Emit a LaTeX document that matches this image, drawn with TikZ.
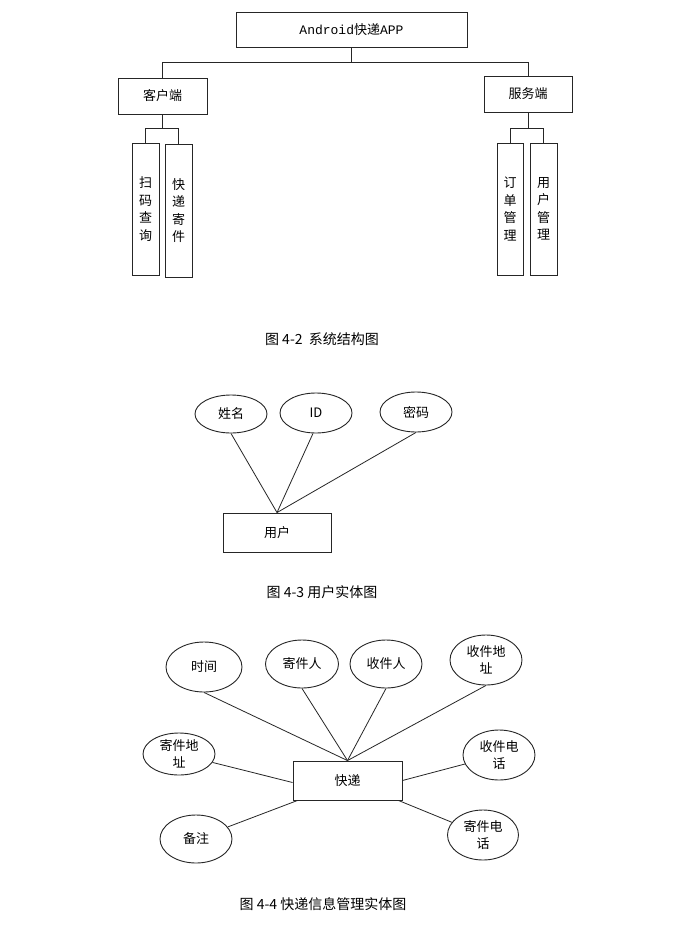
\documentclass[tikz,border=0pt]{standalone}
\usepackage{fontspec}
\setmainfont{Noto Sans CJK SC}
\newfontfamily\monofont{Liberation Mono}
\usetikzlibrary{shapes.geometric}
\begin{document}
\begin{tikzpicture}[x=1pt,y=-1pt,
  every node/.style={font=\fontsize{13}{17.5}\selectfont},
  box/.style={draw=black!85,line width=0.9pt,rectangle,inner sep=0pt,align=center},
  ell/.style={draw=black!85,line width=0.9pt,ellipse,inner sep=0pt,align=center},
  ln/.style={draw=black!85,line width=0.8pt},
  captext/.style={font=\fontsize{14}{16}\selectfont}]
\fill[white] (0,0) rectangle (672,926);
\useasboundingbox (0,0) rectangle (672,926);

% ---- Figure 4-2 ----
\node[box,minimum width=231,minimum height=35] (root) at (351.5,29.5) {{\monofont Android}快递{\monofont APP}};
\node[box,minimum width=89,minimum height=36] (kh) at (162.5,96) {客户端};
\node[box,minimum width=88,minimum height=36] (fw) at (528,94) {服务端};
\node[box,minimum width=27,minimum height=132] (l1) at (145.5,209) {扫\\码\\查\\询};
\node[box,minimum width=27,minimum height=133] (l2) at (178.5,210.5) {快\\递\\寄\\件};
\node[box,minimum width=26,minimum height=132] (r1) at (510,209) {订\\单\\管\\理};
\node[box,minimum width=27,minimum height=132] (r2) at (543.5,209) {用\\户\\管\\理};

\draw[ln] (root.south) -- ++(0,15) coordinate (j1);
\draw[ln] (kh.north) |- (j1) -| (fw.north);
\draw[ln] (kh.south) -- ++(0,14) coordinate (j2);
\draw[ln] (l1.north) |- (j2) -| (l2.north);
\draw[ln] (fw.south) -- ++(0,16) coordinate (j3);
\draw[ln] (r1.north) |- (j3) -| (r2.north);

\node[captext] (c1) at (322,339) {图 4-2\ \ 系统结构图};

% ---- Figure 4-3 ----
\node[ell,minimum width=72,minimum height=38] (xm) at (231,414) {姓名};
\node[ell,minimum width=72,minimum height=40] (id) at (316,413) {ID};
\node[ell,minimum width=72,minimum height=40] (mm) at (416,412) {密码};
\node[box,minimum width=108,minimum height=39] (yh) at (277,532.5) {用户};
\draw[ln] (xm.south) -- (yh.north);
\draw[ln] ([xshift=-3pt]id.south) -- (yh.north);
\draw[ln] (mm.south) -- (yh.north);

\node[captext] (c2) at (322,592) {图 4-3 用户实体图};

% ---- Figure 4-4 ----
\node[box,minimum width=109,minimum height=39] (kd) at (347.5,780.5) {快递};
\node[ell,minimum width=76,minimum height=50] (sj) at (204,667) {时间};
\node[ell,minimum width=73,minimum height=48] (jjr) at (302,664) {寄件人};
\node[ell,minimum width=72,minimum height=48] (sjr) at (386,664) {收件人};
\node[ell,minimum width=72,minimum height=50] (sjdz) at (486,660) {收件地\\址};
\node[ell,minimum width=72,minimum height=42] (jjdz) at (179,754) {寄件地\\址};
\node[ell,minimum width=72,minimum height=50] (sjdh) at (499,755) {收件电\\话};
\node[ell,minimum width=72,minimum height=48] (bz) at (196,839) {备注};
\node[ell,minimum width=71,minimum height=50] (jjdh) at (483,835) {寄件电\\话};

\draw[ln] (sj.south) -- (kd.north);
\draw[ln] (jjr.south) -- (kd.north);
\draw[ln] (sjr.south) -- (kd.north);
\draw[ln] (sjdz.south) -- (kd.north);
\draw[ln] (jjdz) -- ([yshift=-2pt]kd.west);
\draw[ln] (sjdh) -- (kd.east);
\draw[ln] (bz) -- ([xshift=5pt]kd.south west);
\draw[ln] (jjdh) -- ([xshift=-4pt]kd.south east);

\node[captext] (c3) at (323,904) {图 4-4 快递信息管理实体图};
\end{tikzpicture}
\end{document}
